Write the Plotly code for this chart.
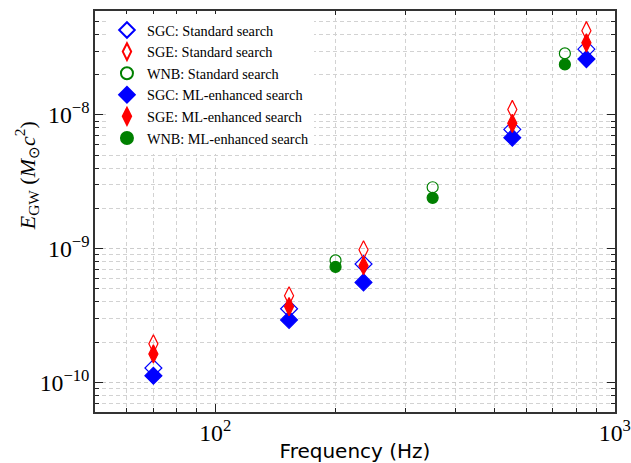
import plotly.graph_objects as go

# Frequencies (Hz)
freq_sg = [70, 153, 235, 554, 849]
freq_wnb = [200, 350, 750]

# E_GW values (Msun c^2)
sgc_std = [1.28e-10, 3.55e-10, 7.68e-10, 7.8e-9, 3.11e-8]
sge_std = [1.94e-10, 4.44e-10, 9.8e-10, 1.1e-8, 4.27e-8]
wnb_std = [8.17e-10, 2.88e-9, 2.89e-8]
sgc_ml = [1.12e-10, 2.93e-10, 5.59e-10, 6.77e-9, 2.62e-8]
sge_ml = [1.63e-10, 3.69e-10, 7.45e-10, 8.66e-9, 3.47e-8]
wnb_ml = [7.3e-10, 2.4e-9, 2.39e-8]

series = [
    ("SGC: Standard search", freq_sg, sgc_std, "diamond-open", "#0000ff", 13),
    ("SGE: Standard search", freq_sg, sge_std, "diamond-tall-open", "#ff0000", 13),
    ("WNB: Standard search", freq_wnb, wnb_std, "circle-open", "#008000", 11),
    ("SGC: ML-enhanced search", freq_sg, sgc_ml, "diamond", "#0000ff", 13),
    ("SGE: ML-enhanced search", freq_sg, sge_ml, "diamond-tall", "#ff0000", 13),
    ("WNB: ML-enhanced search", freq_wnb, wnb_ml, "circle", "#008000", 11),
]

fig = go.Figure()
for name, x, y, sym, col, sz in series:
    fig.add_trace(go.Scatter(
        x=x, y=y, mode="markers", name=name,
        marker=dict(symbol=sym, color=col, size=sz, line=dict(color=col, width=1.2)),
    ))

serif = "Liberation Serif, Times New Roman, Times, serif"

axis_common = dict(
    type="log", showline=True, linecolor="#333333", linewidth=1.5, mirror="allticks",
    ticks="inside", ticklen=8, tickwidth=1.2, tickcolor="#222222",
    showgrid=True, gridcolor="#cccccc", griddash="4px,3px", gridwidth=0.8,
    dtick=1, exponentformat="power", zeroline=False, automargin=False,
    ticklabeloverflow="allow",
    tickfont=dict(family=serif, size=19, color="black"),
    minor=dict(ticks="inside", ticklen=4, tickwidth=1, tickcolor="#222222",
               showgrid=True, gridcolor="#d2d2d2", griddash="4px,3px", gridwidth=0.8),
)

fig.update_xaxes(**axis_common, range=[1.69897, 3.0005],
                 title=dict(text="Frequency (Hz)", font=dict(family="DejaVu Sans", size=20, color="black"), standoff=6))
fig.update_yaxes(**axis_common, range=[-10.222, -7.222])

fig.add_annotation(
    text="<i>E</i><sub>GW</sub> (<i>M</i><sub>⊙</sub><i>c</i><sup>2</sup>)",
    xref="paper", yref="paper", x=-0.131, y=0.59, xanchor="center", yanchor="middle",
    textangle=-90, showarrow=False,
    font=dict(family=serif, size=22, color="black"),
)

fig.update_layout(
    width=631, height=463,
    margin=dict(l=95, r=16, t=11, b=51),
    plot_bgcolor="white", paper_bgcolor="white",
    legend=dict(x=0.023, y=0.992, xanchor="left", yanchor="top",
                bgcolor="white", borderwidth=0,
                font=dict(family=serif, size=14.3, color="black"),
                tracegroupgap=0, itemsizing="constant"),
)

fig.write_html("out.html", config={"displayModeBar": False},
               post_script="document.body.style.margin='0';")
